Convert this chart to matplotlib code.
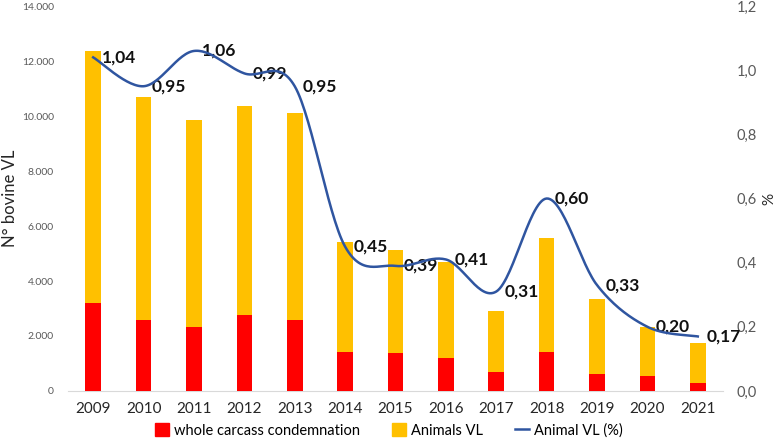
import numpy as np
import matplotlib.pyplot as plt
from matplotlib.patches import Patch
from matplotlib.lines import Line2D

plt.rcParams['font.family'] = ['Lato', 'DejaVu Sans']

# Data
years = ['2009', '2010', '2011', '2012', '2013', '2014', '2015',
         '2016', '2017', '2018', '2019', '2020', '2021']
whole_carcass = [3190, 2580, 2340, 2760, 2580, 1410, 1370, 1210, 700, 1420, 610, 530, 300]
animals_vl = [12380, 10680, 9850, 10360, 10100, 5420, 5120, 4700, 2920, 5560, 3360, 2320, 1760]
vl_percent = [1.04, 0.95, 1.06, 0.99, 0.95, 0.45, 0.39, 0.41, 0.31, 0.60, 0.33, 0.20, 0.17]

red = '#FF0000'
yellow = '#FFC000'
blue = '#2F55A0'
grey = '#595959'


def smooth(xs, ys, n=30):
    # Catmull-Rom curve through the points (like Excel's smoothed line)
    xs = np.asarray(xs, float)
    ys = np.asarray(ys, float)
    px = np.concatenate([[xs[0]], xs, [xs[-1]]])
    py = np.concatenate([[ys[0]], ys, [ys[-1]]])
    out_x, out_y = [], []
    t = np.linspace(0, 1, n, endpoint=False)
    for i in range(1, len(px) - 2):
        for arr, out in ((px, out_x), (py, out_y)):
            p0, p1, p2, p3 = arr[i - 1], arr[i], arr[i + 1], arr[i + 2]
            c1 = p1 + (p2 - p0) / 6
            c2 = p2 - (p3 - p1) / 6
            out.extend((1 - t) ** 3 * p1 + 3 * (1 - t) ** 2 * t * c1
                       + 3 * (1 - t) * t ** 2 * c2 + t ** 3 * p2)
    out_x.append(xs[-1])
    out_y.append(ys[-1])
    return np.array(out_x), np.array(out_y)


fig = plt.figure(figsize=(7.77, 4.44), dpi=100)
ax = fig.add_axes([0.0875, 0.1194, 0.843, 0.867])
x = np.arange(len(years))
width = 0.31

ax.bar(x, animals_vl, width, color=yellow, zorder=2)
ax.bar(x, whole_carcass, width, color=red, zorder=3)

ax.set_xlim(-0.5, len(years) - 0.5)
ax.set_ylim(0, 14000)
ax.set_yticks(np.arange(0, 14001, 2000))
ax.set_yticklabels([f'{v:,}'.replace(',', '.') for v in range(0, 14001, 2000)],
                   fontsize=7.5, color=grey)
ax.set_xticks(x)
ax.set_xticklabels(years, fontsize=11, color='#262626')
ax.tick_params(axis='y', length=0, pad=10)
ax.tick_params(axis='x', length=0, pad=8)
ax.set_ylabel('N° bovine VL', fontsize=12, color='#262626')
ax.yaxis.set_label_coords(-0.077, 0.5)
for s in ['top', 'right', 'left']:
    ax.spines[s].set_visible(False)
ax.spines['bottom'].set_color('#D9D9D9')

ax2 = ax.twinx()
ax2.set_ylim(0, 1.2)
ax2.set_yticks(np.arange(0, 1.21, 0.2))
ax2.set_yticklabels([f'{v:.1f}'.replace('.', ',') for v in np.arange(0, 1.21, 0.2)],
                    fontsize=10.5, color=grey)
ax2.tick_params(axis='y', length=0, pad=10)
ax2.set_ylabel('%', fontsize=11, color='#262626', labelpad=4)
for s in ax2.spines.values():
    s.set_visible(False)

sx, sy = smooth(x, vl_percent)
ax2.plot(sx, sy, color=blue, linewidth=1.8, zorder=5)
for xi, v in zip(x, vl_percent):
    ax2.annotate(f'{v:.2f}'.replace('.', ','), (xi, v), xytext=(6, 0),
                 textcoords='offset points', ha='left', va='center',
                 fontsize=12.5, fontweight='bold', color='#111111')

handles = [Patch(color=red), Patch(color=yellow), Line2D([], [], color=blue, linewidth=1.8)]
labels = ['whole carcass condemnation', 'Animals VL', 'Animal VL (%)']
fig.legend(handles, labels, loc='lower center', bbox_to_anchor=(0.5, -0.015), ncol=3,
           frameon=False, fontsize=10.5, handlelength=1.0, handleheight=0.9,
           handletextpad=0.3, columnspacing=2.2)

fig.savefig('out.png', dpi=100)
